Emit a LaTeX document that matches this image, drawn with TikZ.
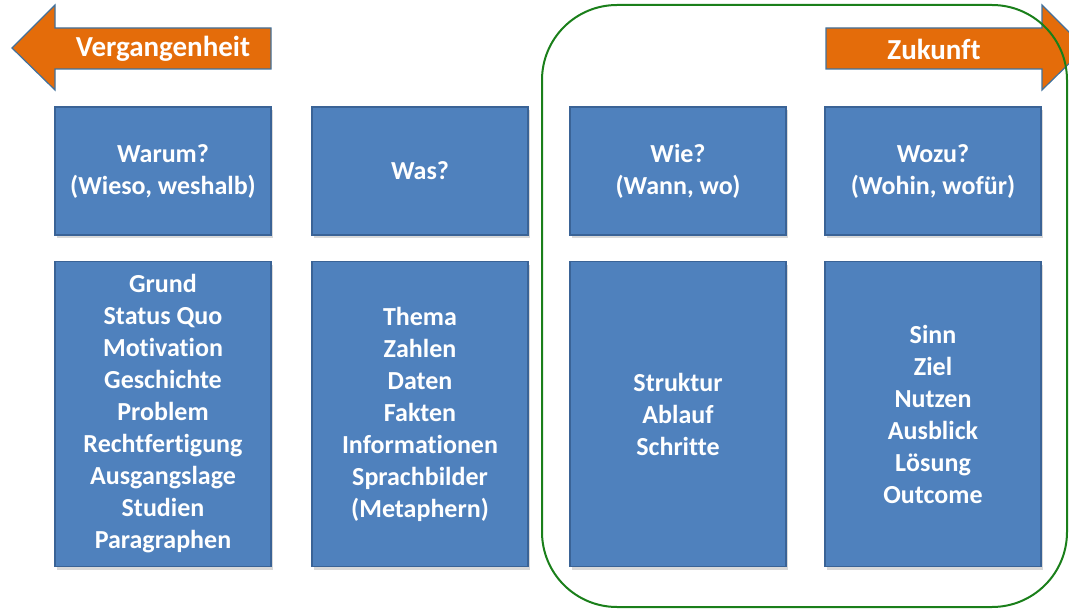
\documentclass[tikz,border=0pt]{standalone}
\usepackage{fontspec}
\setmainfont[Ligatures=NoCommon]{Carlito}
\usetikzlibrary{shadows}
\definecolor{boxblue}{HTML}{4F81BD}
\definecolor{boxline}{HTML}{3A6396}
\definecolor{arroworange}{HTML}{E46C0A}
\definecolor{arrowline}{HTML}{41719C}
\definecolor{framegreen}{HTML}{1A7F1A}
\tikzset{
    card/.style={rectangle,draw=boxline,fill=boxblue,line width=1.2pt,text=white,
        align=center,minimum width=216pt,inner sep=0pt,
        font=\fontsize{26}{32}\selectfont\bfseries,
        drop shadow={shadow xshift=2pt,shadow yshift=-3pt,opacity=0.3}},
    question/.style={card,minimum height=128pt},
    answers/.style={card,minimum height=305pt},
    timearrow/.style={draw=arrowline,fill=arroworange,line width=1.2pt},
    arrowlabel/.style={text=white,font=\fontsize{29}{32}\selectfont\bfseries},
}
\begin{document}
\begin{tikzpicture}[x=1pt,y=-1pt]
    \useasboundingbox (0,0) rectangle (1069,610);
    \clip (0,0) rectangle (1069,610);

    % time arrows
    \draw[timearrow] (271,28) -- (55,28) -- (55,5) -- (12,48) -- (55,90) -- (55,69) -- (271,69) -- cycle;
    \node[arrowlabel] (past) at (163,49) {Vergangenheit};
    \draw[timearrow] (826,28) -- (1042,28) -- (1042,5) -- (1085,48) -- (1042,90) -- (1042,69) -- (826,69) -- cycle;
    \node[arrowlabel] (future) at (934,49) {Zukunft};

    % questions
    \node[question] (warum) at (163,171) {Warum?\\(Wieso, weshalb)};
    \node[question] (was) at (420,171) {Was?};
    \node[question] (wie) at (678,171) {Wie?\\(Wann, wo)};
    \node[question] (wozu) at (933,171) {Wozu?\\(Wohin, wofür)};

    % answers
    \node[answers] (grund) at (163,414) {Grund\\Status Quo\\Motivation\\Geschichte\\Problem\\Rechtfertigung\\Ausgangslage\\Studien\\Paragraphen};
    \node[answers] (thema) at (420,414) {Thema\\Zahlen\\Daten\\Fakten\\Informationen\\Sprachbilder\\(Metaphern)};
    \node[answers] (struktur) at (678,414) {Struktur\\Ablauf\\Schritte};
    \node[answers] (sinn) at (933,414) {Sinn\\Ziel\\Nutzen\\Ausblick\\Lösung\\Outcome};

    % frame round the future side
    \draw[framegreen,line width=2pt,rounded corners=75pt] (542,5) rectangle (1067,607);
\end{tikzpicture}
\end{document}
